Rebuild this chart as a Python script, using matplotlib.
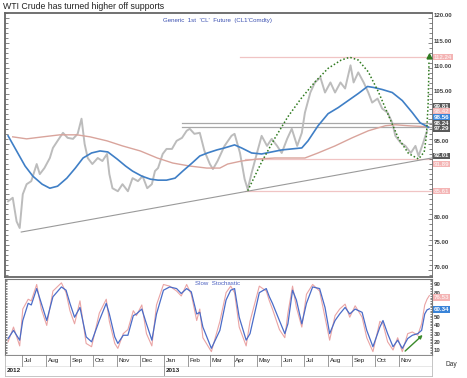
import matplotlib
matplotlib.use("Agg")
import matplotlib.pyplot as plt
import matplotlib.dates as mdates
import matplotlib.transforms as mtransforms
import pandas as pd
import numpy as np

plt.rcParams['font.family'] = ['Liberation Sans', 'DejaVu Sans']

# ---------------- data ----------------
title = "WTI Crude has turned higher off supports"
subtitle = "Generic  1st  'CL'  Future  (CL1'Comdty)"

price_dates = ["2012-06-13","2012-06-19","2012-06-24","2012-06-28","2012-07-02","2012-07-07","2012-07-13",
    "2012-07-20","2012-07-24","2012-07-30","2012-08-06","2012-08-10","2012-08-16","2012-08-23","2012-08-29",
    "2012-09-05","2012-09-11","2012-09-16","2012-09-20","2012-09-24","2012-09-30","2012-10-07","2012-10-13",
    "2012-10-19","2012-10-22","2012-10-26","2012-11-02","2012-11-08","2012-11-15","2012-11-21","2012-11-28",
    "2012-12-04","2012-12-10","2012-12-16","2012-12-20","2012-12-24","2012-12-30","2013-01-04","2013-01-11",
    "2013-01-17","2013-01-24","2013-01-30","2013-02-03","2013-02-09","2013-02-16","2013-02-22","2013-03-01",
    "2013-03-05","2013-03-11","2013-03-20","2013-03-29","2013-04-02","2013-04-09","2013-04-15","2013-04-19",
    "2013-04-24","2013-05-01","2013-05-07","2013-05-14","2013-05-20","2013-05-27","2013-06-02","2013-06-09",
    "2013-06-15","2013-06-22","2013-06-28","2013-07-02","2013-07-09","2013-07-15","2013-07-22","2013-07-28",
    "2013-08-04","2013-08-10","2013-08-17","2013-08-23","2013-08-30","2013-09-03","2013-09-09","2013-09-16",
    "2013-09-22","2013-09-27","2013-10-04","2013-10-10","2013-10-17","2013-10-23","2013-10-27","2013-11-03",
    "2013-11-09","2013-11-16","2013-11-22","2013-11-26","2013-12-02","2013-12-07"]
price_close = [83.6,84.3,79.6,78.3,85.0,87.0,87.6,91.0,89.0,90.2,92.2,94.2,95.6,97.2,96.2,96.0,97.0,100.0,
    95.0,92.2,91.0,92.2,91.6,93.0,89.0,86.2,85.6,87.0,85.6,88.2,87.6,88.6,86.2,87.0,89.6,90.2,93.0,94.0,
    94.0,95.6,96.2,97.6,98.0,97.0,97.2,93.6,91.0,90.0,91.6,94.6,96.6,97.0,93.2,88.0,86.0,89.2,93.2,96.6,
    94.6,96.0,94.6,93.2,96.0,98.0,94.6,97.2,101.2,105.2,107.2,108.2,105.2,107.2,105.2,107.2,106.0,110.6,
    107.2,109.2,107.2,105.2,103.2,104.0,102.0,101.2,99.2,96.6,95.2,94.6,93.2,94.6,92.6,95.2,97.6]

ma_blue_dates = ["2012-06-13","2012-06-24","2012-07-05","2012-07-15","2012-07-27","2012-08-06","2012-08-16",
    "2012-08-28","2012-09-08","2012-09-18","2012-09-29","2012-10-10","2012-10-20","2012-11-01","2012-11-12",
    "2012-11-21","2012-12-03","2012-12-14","2012-12-24","2013-01-04","2013-01-15","2013-01-25","2013-02-06",
    "2013-02-16","2013-02-26","2013-03-10","2013-03-20","2013-04-02","2013-04-11","2013-04-24","2013-05-07",
    "2013-05-20","2013-06-02","2013-06-15","2013-06-28","2013-07-06","2013-07-19","2013-08-01","2013-08-14",
    "2013-08-27","2013-09-09","2013-09-21","2013-09-29","2013-10-10","2013-10-23","2013-11-05","2013-11-18",
    "2013-11-28","2013-12-09"]
ma_blue = [96.6,93.6,90.6,88.6,87.0,86.2,86.6,88.2,90.2,92.2,93.2,93.6,93.4,92.0,90.6,89.6,88.6,88.0,87.8,
    87.8,88.2,89.6,91.2,92.6,93.2,93.8,94.2,94.8,94.2,93.2,93.0,93.4,93.8,94.0,94.2,95.6,98.6,101.0,102.2,
    103.6,105.0,106.4,106.2,105.8,105.2,103.6,101.2,99.2,98.3]

ma_red_dates = ["2012-06-19","2012-07-07","2012-07-28","2012-08-19","2012-09-10","2012-09-27","2012-10-19",
    "2012-11-08","2012-12-01","2012-12-23","2013-01-12","2013-02-03","2013-02-25","2013-03-14","2013-03-24",
    "2013-04-11","2013-05-02","2013-05-24","2013-07-02","2013-07-19","2013-08-10","2013-09-01","2013-09-22",
    "2013-10-14","2013-10-27","2013-11-13","2013-12-09"]
ma_red = [96.4,96.0,96.4,96.8,96.8,96.4,95.6,94.6,93.6,92.2,91.2,90.6,90.2,90.2,91.0,91.6,92.0,92.2,92.2,
    93.2,94.6,96.2,97.6,98.6,98.8,98.6,98.4]

# horizontal levels: value, start date, kind
level_values = [112.24, 99.06, 98.26, 92.0, 85.61]
level_starts = ["2013-04-09", "2013-01-24", "2013-01-24", "2013-04-15", "2013-04-15"]
level_kinds = ["pink", "gray", "gray", "pink", "pink"]

trend_dates = ["2012-06-30", "2013-12-13"]
trend_values = [77.5, 92.2]

# hand-drawn projection curve (annotation)
curve_dates = ["2013-04-19 00:00","2013-05-07 00:00","2013-05-24 00:00","2013-06-10 00:00","2013-06-27 00:00",
    "2013-07-15 00:00","2013-08-01 00:00","2013-08-18 00:00","2013-08-29 00:00","2013-09-09 00:00",
    "2013-09-22 00:00","2013-10-05 00:00","2013-10-18 00:00","2013-10-31 00:00","2013-11-13 00:00",
    "2013-11-26 00:00","2013-12-03 08:00","2013-12-06 06:00","2013-12-08 08:00","2013-12-09 04:00",
    "2013-12-09 12:00"]
curve_values = [85.7,91.4,96.1,100.4,104.0,107.3,110.0,111.65,112.2,111.65,109.3,105.35,100.7,96.1,93.1,
    92.0,93.4,96.7,102.7,108.0,111.3]

# right-side value tags
tag_texts = ["112.24", "99.81", "98.42", "98.56", "98.24", "97.29", "92.01", "91.89", "85.61"]
tag_pos = [112.24, 102.5, 101.5, 100.2, 99.1, 98.0, 92.6, 91.0, 85.6]
tag_kinds = ["pink", "dark", "pink", "blue", "dark", "dark", "dark", "pink", "pink"]

stoch_dates = ["2012-06-13","2012-06-20","2012-06-28","2012-07-02","2012-07-09","2012-07-13","2012-07-20",
    "2012-07-26","2012-08-02","2012-08-10","2012-08-21","2012-08-27","2012-09-01","2012-09-07","2012-09-14",
    "2012-09-22","2012-09-29","2012-10-09","2012-10-18","2012-10-22","2012-10-29","2012-11-02","2012-11-09",
    "2012-11-15","2012-11-22","2012-11-26","2012-12-03","2012-12-09","2012-12-16","2012-12-22","2012-12-31",
    "2013-01-08","2013-01-17","2013-01-23","2013-01-30","2013-02-05","2013-02-12","2013-02-16","2013-02-20",
    "2013-03-03","2013-03-14","2013-03-22","2013-03-28","2013-04-02","2013-04-08","2013-04-17","2013-04-22",
    "2013-05-04","2013-05-13","2013-05-17","2013-05-21","2013-05-30","2013-06-06","2013-06-10","2013-06-16",
    "2013-06-21","2013-06-28","2013-07-04","2013-07-12","2013-07-21","2013-07-28","2013-08-03","2013-08-10",
    "2013-08-16","2013-08-23","2013-08-29","2013-09-05","2013-09-14","2013-09-20","2013-09-28","2013-10-07",
    "2013-10-11","2013-10-17","2013-10-24","2013-10-30","2013-11-05","2013-11-12","2013-11-18","2013-11-25",
    "2013-11-30","2013-12-04","2013-12-07","2013-12-10"]
stoch_d = [24,34,22,46,67,65,85,67,46,75,87,83,67,50,62,26,20,46,67,54,26,18,28,28,52,54,60,42,22,54,83,
    87,85,79,85,81,54,56,38,12,34,71,83,85,50,22,30,80,85,75,67,46,30,42,83,71,42,67,87,85,62,30,46,54,
    62,54,60,56,34,14,38,46,30,14,22,12,24,28,30,34,54,59,60.3]
stoch_k = [20,38,15,60,72,70,90,60,40,82,92,80,58,42,70,18,14,55,72,45,18,12,30,35,58,52,65,30,15,65,90,
    88,82,76,90,78,46,60,25,8,45,80,88,80,38,15,45,88,82,70,60,35,25,55,88,62,38,78,90,82,50,22,52,60,
    66,50,64,50,25,8,45,42,20,10,25,8,30,32,28,42,65,72,76.5]
stoch_tag_texts = ["76.53", "60.34"]
stoch_tag_pos = [74.3, 59.7]

arrow_dates = ["2013-11-06", "2013-12-04"]
arrow_values = [6.4, 30.6]

month_labels = ["Jul","Aug","Sep","Oct","Nov","Dec","Jan","Feb","Mar","Apr","May","Jun","Jul","Aug","Sep","Oct","Nov"]
month_starts = ["2012-07-01","2012-08-01","2012-09-01","2012-10-01","2012-11-01","2012-12-01","2013-01-01",
    "2013-02-01","2013-03-01","2013-04-01","2013-05-01","2013-06-01","2013-07-01","2013-08-01","2013-09-01",
    "2013-10-01","2013-11-01"]
year_labels = ["2012", "2013"]
year_starts = ["2012-06-09", "2013-01-01"]

price_ticks = [70, 75, 80, 85, 90, 95, 100, 105, 110, 115, 120]
price_hidden = [90, 100]          # tick labels covered by value tags
stoch_ticks = [10, 20, 30, 40, 50, 60, 70, 80, 90]
stoch_hidden = [60, 70]

# ---------------- figure ----------------
W, H = 467, 378
fig = plt.figure(figsize=(W / 100, H / 100), dpi=100)
fig.patch.set_facecolor("white")

def fx(px):
    return px / W

def fy(py):
    return 1 - py / H

def pd_(x):
    return pd.to_datetime(x, format="mixed")

def to_d(s):
    return mdates.date2num(pd.to_datetime(s))

L, R = 5, 432
ax = fig.add_axes([fx(L), fy(277), fx(R - L), fy(12.7) - fy(277)])
ax2 = fig.add_axes([fx(L), fy(355), fx(R - L), fy(279) - fy(355)])
ax3 = fig.add_axes([fx(L), fy(376), fx(R - L), fy(355) - fy(376)])

xmin, xmax = to_d("2012-06-09"), to_d("2013-12-13 10:00")
for a in (ax, ax2, ax3):
    a.set_xlim(xmin, xmax)

# --- upper panel ---
ax.set_ylim(68.57, 121.05)
ax.plot(pd_(price_dates), price_close, color="#bcbcbc", lw=1.4, zorder=2)
ax.plot(pd_(ma_red_dates), ma_red, color="#d9a49c", lw=1.0, zorder=3)
ax.plot(pd_(ma_blue_dates), ma_blue, color="#3f7fc6", lw=1.2, zorder=4)
for v, s, k in zip(level_values, level_starts, level_kinds):
    c = "#f0c4c4" if k == "pink" else "#a8a8a8"
    ax.plot([to_d(s), xmax], [v, v], color=c, lw=0.9, zorder=1)
ax.plot(pd_(trend_dates), trend_values, color="#9a9a9a", lw=0.8, zorder=1)
ax.plot(pd_(curve_dates), curve_values, color="#2f7a1f", lw=1.1, linestyle=(0, (1, 1.4)), zorder=5)
ax.plot([to_d("2013-12-09 12:00")], [112.4], marker="^", color="#2f7a1f", ms=3.5, zorder=6)

ax.text((163 - L) / (R - L), 0.972, subtitle, transform=ax.transAxes, fontsize=4.4,
        color="#3a4fb0", va="center", ha="left")

ax.yaxis.tick_right()
ax.set_yticks(price_ticks)
ax.set_yticklabels(["" if t in price_hidden else f"{t:.2f}" for t in price_ticks])
ax.yaxis.set_minor_locator(matplotlib.ticker.MultipleLocator(1))
ax.tick_params(axis="y", which="both", right=True, left=True, direction="in", length=2, width=0.5,
               colors="#555555", labelsize=4.4, pad=1.5)
ax.tick_params(axis="y", which="major", length=3)
for lab in ax.get_yticklabels():
    lab.set_fontweight("bold")
    lab.set_color("#444444")
    lab.set_transform(lab.get_transform() + mtransforms.ScaledTranslation(0, 2.5 / 100, fig.dpi_scale_trans))
ax.set_xticks([])
for sp in ax.spines.values():
    sp.set_color("#666666")
    sp.set_linewidth(1.3)
ax.spines["right"].set_linewidth(0.6)

tag_colors = {"pink": ("#f4b4b4", "#fbeaea"), "dark": ("#5a5a5a", "white"), "blue": ("#3a84d8", "white")}
for t, p, k in zip(tag_texts, tag_pos, tag_kinds):
    fc, tc = tag_colors[k]
    ax.text(1.004, p, t, transform=ax.get_yaxis_transform(), fontsize=4.4, fontweight="bold",
            color=tc, va="center", ha="left", zorder=10, clip_on=False,
            bbox=dict(boxstyle="square,pad=0.12", fc=fc, ec="none"))

# --- stochastic panel ---
ax2.set_ylim(3.9, 96.7)
ax2.plot(pd_(stoch_dates), stoch_k, color="#eaa4a4", lw=0.8, zorder=2)
ax2.plot(pd_(stoch_dates), stoch_d, color="#4a6cc8", lw=0.9, zorder=3)
ax2.annotate("", xy=(to_d(arrow_dates[1]), arrow_values[1]), xytext=(to_d(arrow_dates[0]), arrow_values[0]),
             arrowprops=dict(arrowstyle="-|>", color="#3a8a2a", lw=1.0, mutation_scale=5))
ax2.text((195 - L) / (R - L), 0.947, "Slow  Stochastic", transform=ax2.transAxes, fontsize=4.4,
         color="#4a5fc0", va="center", ha="left")
ax2.yaxis.tick_right()
ax2.set_yticks(stoch_ticks)
ax2.set_yticklabels(["" if t in stoch_hidden else str(t) for t in stoch_ticks])
ax2.yaxis.set_minor_locator(matplotlib.ticker.MultipleLocator(2))
ax2.tick_params(axis="y", which="both", right=True, left=True, direction="in", length=1.5, width=0.5,
                colors="#555555", labelsize=4.4, pad=1.5)
for lab in ax2.get_yticklabels():
    lab.set_fontweight("bold")
    lab.set_color("#444444")
ax2.set_xticks([])
for sp in ax2.spines.values():
    sp.set_color("#777777")
    sp.set_linewidth(0.8)
for t, p, k in zip(stoch_tag_texts, stoch_tag_pos, ["pink", "blue"]):
    fc, tc = tag_colors[k]
    ax2.text(1.004, p, t, transform=ax2.get_yaxis_transform(), fontsize=4.4, fontweight="bold",
             color=tc, va="center", ha="left", zorder=10, clip_on=False,
             bbox=dict(boxstyle="square,pad=0.12", fc=fc, ec="none"))

# --- date strip ---
ax3.set_ylim(0, 2)
ax3.set_xticks([])
ax3.set_yticks([])
for sp in ax3.spines.values():
    sp.set_color("#bbbbbb")
    sp.set_linewidth(0.6)
ax3.spines["top"].set_color("#777777")
ax3.axhline(1.0, color="#dddddd", lw=0.5)
for m, s in zip(month_labels, month_starts):
    d = to_d(s)
    ax3.plot([d, d], [1.0, 2.0], color="#888888", lw=0.6)
    ax3.text(d + 2, 1.5, m, fontsize=4.6, color="#222222", va="center", ha="left")
for y_, s in zip(year_labels, year_starts):
    d = to_d(s)
    if y_ == "2013":
        ax3.plot([d, d], [0, 1.0], color="#888888", lw=0.6)
    ax3.text(d + 2, 0.5, y_, fontsize=4.6, color="#222222", va="center", ha="left", fontweight="bold")

fig.text(fx(446), fy(364), "Day", fontsize=4.8, color="#333333", va="center", ha="left")
fig.text(fx(3), fy(6.5), title, fontsize=6.3, color="#222222", va="center", ha="left")

fig.savefig("out.png", dpi=100, facecolor="white")
